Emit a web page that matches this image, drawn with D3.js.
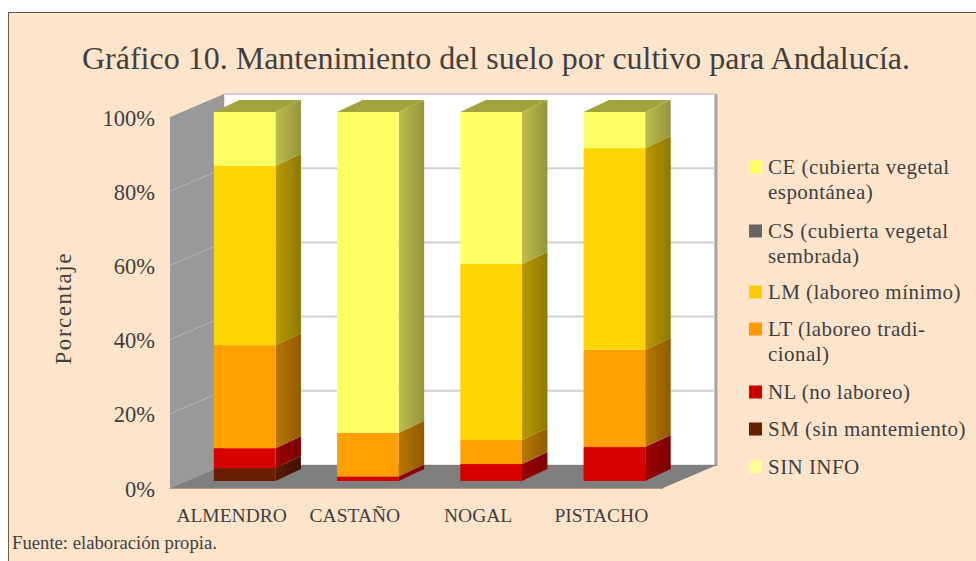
<!DOCTYPE html>
<html><head><meta charset="utf-8">
<script src="https://cdn.jsdelivr.net/npm/d3@7"></script>
<style>html,body{margin:0;padding:0;background:#fff}svg{display:block}text{font-family:"Liberation Serif",serif;fill:#404040}</style>
</head><body><svg id="c" width="976" height="561"></svg>
<script>
const titleText = "Gráfico 10. Mantenimiento del suelo por cultivo para Andalucía.";
const sourceText = "Fuente: elaboración propia.";
const axisTitle = "Porcentaje";
const categories = ["ALMENDRO","CASTAÑO","NOGAL","PISTACHO"];
const seriesKeys = ["SM","NL","LT","LM","CS","CE","SIN"];
const SM  = [3.5,0,0,0];
const NL  = [5.4,1.2,4.6,9.2];
const LT  = [27.9,11.9,6.5,26.4];
const LM  = [48.6,0,47.7,54.6];
const CS  = [0,0,0,0];
const CE  = [14.6,86.9,41.2,9.8];
const SIN = [0,0,0,0];
const yTicks = [0,20,40,60,80,100];
const legendLabels = [["CE (cubierta vegetal","espontánea)"],["CS (cubierta vegetal","sembrada)"],["LM (laboreo mínimo)"],["LT (laboreo tradi-","cional)"],["NL (no laboreo)"],["SM (sin mantemiento)"],["SIN INFO"]];
const legendColors = ["#FFFF66","#666666","#FFCC00","#FF9900","#CC0000","#662200","#FFFF99"];
const legendY = [167,231,292,329,392,429,467];
const faceColors = {SM:"#6B1F00",NL:"#D60000",LT:"#FF9F00",LM:"#FFD500",CS:"#666666",CE:"#FFFF66",SIN:"#FFFF99"};
const sideDark = {SM:["#5a1a00","#3f1200"],NL:["#990000","#7d0000"],LT:["#b87700","#8f5c00"],LM:["#b89a00","#8f7800"],CS:["#4a4a4a","#333"],CE:["#bdbd4d","#94943c"],SIN:["#bdbd70","#949458"]};
const dataBy = {SM,NL,LT,LM,CS,CE,SIN};

const svg = d3.select("#c");
const defs = svg.append("defs");
seriesKeys.forEach(k=>{
  const g=defs.append("linearGradient").attr("id","g"+k);
  g.append("stop").attr("offset",0).attr("stop-color",sideDark[k][0]);
  g.append("stop").attr("offset",1).attr("stop-color",sideDark[k][1]);
});
svg.append("rect").attr("x",8.5).attr("y",12.5).attr("width",970).attr("height",552)
  .attr("fill","#FFE4CC").attr("stroke","#665a4c").attr("stroke-width",1);

const x = d3.scaleBand().domain(categories).range([170,663]);
const yFront = d3.scaleLinear().domain([0,100]).range([488,117]);
const yBack = d3.scaleLinear().domain([0,100]).range([465,94]);
const yBar = d3.scaleLinear().domain([0,100]).range([481,112]);
const wallDx = 54, barW = x.bandwidth()*0.5, barDx = 25.5, barDy = 12;

const poly = pts => pts.map(p=>p.join(",")).join(" ");
const X0=x.range()[0], X1=x.range()[1];
svg.append("rect").attr("x",X0+wallDx).attr("y",yBack(100)).attr("width",X1-X0-2).attr("height",yBack(0)-yBack(100))
  .attr("fill","#fff").attr("stroke","#c8c8c8").attr("stroke-width",1);
svg.append("line").attr("x1",X1+wallDx-1).attr("x2",X1+wallDx-1).attr("y1",yBack(100)).attr("y2",yBack(0)+1).attr("stroke","#a6a6a6").attr("stroke-width",3);
svg.append("polygon").attr("points",poly([[X0,yFront(0)],[X0,yFront(100)],[X0+wallDx,yBack(100)],[X0+wallDx,yBack(0)]])).attr("fill","#999999");
svg.append("polygon").attr("points",poly([[X0,yFront(0)],[X1,yFront(0)],[X1+wallDx,yBack(0)],[X0+wallDx,yBack(0)]])).attr("fill","#7f7f7f");
svg.append("line").attr("x1",X0).attr("x2",X1).attr("y1",yFront(0)+.5).attr("y2",yFront(0)+.5).attr("stroke","#a89a8a");
yTicks.forEach(t=>{
  if(t>0) svg.append("line").attr("x1",X0+wallDx).attr("x2",X1+wallDx-2).attr("y1",yBack(t)).attr("y2",yBack(t)).attr("stroke","#d0d0d0").attr("stroke-width",2);
  if(t>0&&t<100) svg.append("line").attr("x1",X0).attr("x2",X0+wallDx).attr("y1",yFront(t)).attr("y2",yBack(t)).attr("stroke","#b5b5b5").attr("stroke-width",1);
});

const stacked = d3.stack().keys(seriesKeys).value((d,k)=>dataBy[k][categories.indexOf(d)])(categories);
stacked.forEach(s=>{
  const k=s.key;
  const g=svg.append("g");
  s.forEach((d,i)=>{
    if(d[1]-d[0]<=0) return;
    const c=categories[i];
    const l=x(c)+x.bandwidth()/2+13-barW/2, r=l+barW, t=yBar(d[1]), b=yBar(d[0]);
    g.append("polygon").attr("points",poly([[r,b],[r,t],[r+barDx,t-barDy],[r+barDx,b-barDy]])).attr("fill","url(#g"+k+")");
    g.append("rect").attr("x",l).attr("y",t).attr("width",barW).attr("height",b-t).attr("fill",faceColors[k]);
  });
});
categories.forEach(c=>{
  const l=x(c)+x.bandwidth()/2+13-barW/2, r=l+barW, t=yBar(100);
  svg.append("polygon").attr("points",poly([[l,t],[r,t],[r+barDx,t-barDy],[l+barDx,t-barDy]])).attr("fill","#A3A33D");
});

const ay = d3.axisLeft(yFront).tickValues(yTicks).tickSize(0).tickPadding(0).tickFormat(d=>d+"%");
const gy = svg.append("g").attr("transform","translate(155,0)").call(ay);
gy.select(".domain").remove();
gy.selectAll("text").style("font-size","22.5px").attr("dy","0.36em");
const ax = d3.axisBottom(x).tickSize(0).tickPadding(0);
const gx = svg.append("g").attr("transform","translate(0,506)").call(ax);
gx.select(".domain").remove();
gx.selectAll("text").style("font-size","19.5px").attr("dy","0.82em");

svg.append("text").attr("x",496).attr("y",69).attr("text-anchor","middle").style("font-size","32px").attr("textLength",828).attr("lengthAdjust","spacingAndGlyphs").text(titleText);
svg.append("text").attr("transform","translate(71,309) rotate(-90)").attr("text-anchor","middle").style("font-size","23px").attr("textLength",111).attr("lengthAdjust","spacing").text(axisTitle);
svg.append("text").attr("x",12).attr("y",549).style("font-size","18.7px").text(sourceText);

legendLabels.forEach((ls,i)=>{
  svg.append("rect").attr("x",749).attr("y",legendY[i]-6.5).attr("width",13).attr("height",13).attr("fill",legendColors[i]);
  ls.forEach((t,j)=>svg.append("text").attr("x",768).attr("y",legendY[i]+7+j*25).style("font-size","21px").style("letter-spacing","0.45px").text(t));
});
</script></body></html>
